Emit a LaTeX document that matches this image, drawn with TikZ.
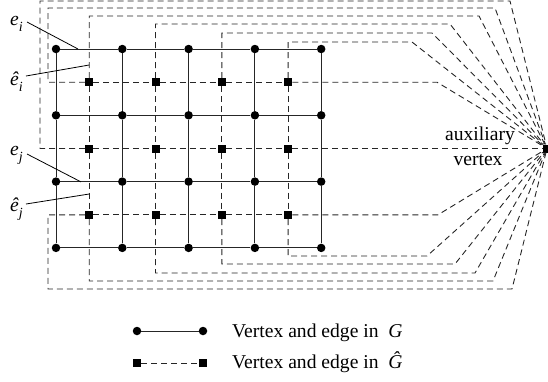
\documentclass[tikz,border=0pt]{standalone}
\usepackage{fontspec}
\setmainfont{Liberation Serif}
\newcommand{\subsc}[1]{\raisebox{-0.32em}{\fontsize{14}{14}\selectfont\textit{#1}}}
\begin{document}
\begin{tikzpicture}[x=1pt,y=-1pt,
  gedge/.style={line width=0.9pt, black!85},
  dual/.style={line width=0.9pt, black!85, dash pattern=on 6pt off 4pt},
  gv/.style={circle, fill=black, inner sep=0pt, minimum size=8.5pt},
  dv/.style={rectangle, fill=black, inner sep=0pt, minimum size=8pt},
  lab/.style={font=\fontsize{19.6}{23}\selectfont, inner sep=0pt},
  lead/.style={line width=0.8pt, black}]
\useasboundingbox (0,0) rectangle (548,381);
% vertices of G
\foreach \i in {1,...,5}
  \foreach \j in {1,...,4}
    \node[gv] (g\i\j) at ({56+66.3*(\i-1)},{49+66.3*(\j-1)}) {};
% vertices of G-hat
\foreach \i in {1,...,4}
  \foreach \j in {1,...,3}
    \node[dv] (d\i\j) at ({89.2+66.3*(\i-1)},{82.2+66.3*(\j-1)}) {};
\node[dv] (aux) at (547,148.5) {};
% edges of G
\foreach \i/\k in {1/2,2/3,3/4,4/5}
  \foreach \j in {1,...,4}
    \draw[gedge] (g\i\j) -- (g\k\j);
\foreach \j/\l in {1/2,2/3,3/4}
  \foreach \i in {1,...,5}
    \draw[gedge] (g\i\j) -- (g\i\l);
% inner edges of G-hat
\foreach \i/\k in {1/2,2/3,3/4}
  \foreach \j in {1,...,3}
    \draw[dual] (d\i\j) -- (d\k\j);
\foreach \j/\l in {1/2,2/3}
  \foreach \i in {1,...,4}
    \draw[dual] (d\i\j) -- (d\i\l);
% edges to the auxiliary vertex
\draw[dual] (d12) -- (40,148.5) -- (40,1) -- (510,1) -- (aux);
\draw[dual] (d11) -- (48,82.2) -- (48,8) -- (495,8) -- (aux);
\draw[dual] (d11) -- (89.2,16) -- (479,16) -- (aux);
\draw[dual] (d21) -- (155.5,24) -- (450,24) -- (aux);
\draw[dual] (d31) -- (221.8,33) -- (432,33) -- (aux);
\draw[dual] (d41) -- (288.1,42) -- (412,42) -- (aux);
\draw[dual] (d41) -- (437,82.2) -- (aux);
\draw[dual] (d42) -- (aux);
\draw[dual] (d43) -- (438,214.8) -- (aux);
\draw[dual] (d43) -- (288.1,256) -- (427,256) -- (aux);
\draw[dual] (d33) -- (221.8,264) -- (455,264) -- (aux);
\draw[dual] (d23) -- (155.5,273) -- (475,273) -- (aux);
\draw[dual] (d13) -- (89.2,281) -- (493,281) -- (aux);
\draw[dual] (d13) -- (48,214.8) -- (48,289) -- (512,289) -- (aux);
% labels
\node[lab, anchor=base west] (ei) at (10,25) {\textit{e}\subsc{i}};
\node[lab, anchor=base west] (ehi) at (10,85) {\textit{ê}\subsc{i}};
\node[lab, anchor=base west] (ej) at (10,155) {\textit{e}\subsc{j}};
\node[lab, anchor=base west] (ehj) at (10,211) {\textit{ê}\subsc{j}};
\coordinate (eiA) at (27,22);   \coordinate (eiB) at (78,49);
\coordinate (ehiA) at (26,76);  \coordinate (ehiB) at (89.2,65);
\coordinate (ejA) at (27,154);  \coordinate (ejB) at (81,181.9);
\coordinate (ehjA) at (26,204); \coordinate (ehjB) at (89.2,194);
\draw[lead] (eiA) -- (eiB);
\draw[lead] (ehiA) -- (ehiB);
\draw[lead] (ejA) -- (ejB);
\draw[lead] (ehjA) -- (ehjB);
\node[lab, anchor=base] (auxa) at (480,140) {auxiliary};
\node[lab, anchor=base] (auxb) at (478,165) {vertex};
% legend
\node[gv] (lg1) at (137,331) {};
\node[gv] (lg2) at (203,331) {};
\draw[gedge] (lg1) -- (lg2);
\node[dv] (ld1) at (137,363) {};
\node[dv] (ld2) at (203,363) {};
\draw[dual] (ld1) -- (ld2);
\node[lab, anchor=base west] (lt1) at (232,337) {Vertex and edge in\hspace{0.5em}\textit{G}};
\node[lab, anchor=base west] (lt2) at (232,368) {Vertex and edge in\hspace{0.5em}\textit{Ĝ}};
\end{tikzpicture}
\end{document}
